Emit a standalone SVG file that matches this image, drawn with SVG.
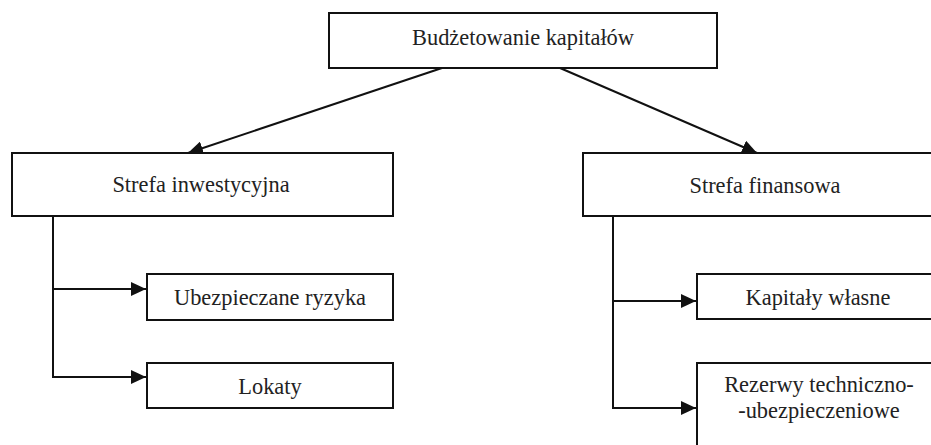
<svg xmlns="http://www.w3.org/2000/svg" width="931" height="445" viewBox="0 0 931 445">
<style>
.box{fill:#fff;stroke:#111;stroke-width:2}
.lbl{font-family:"Liberation Serif","Times New Roman",serif;font-size:22.4px;fill:#222;text-anchor:middle}
.con{fill:none;stroke:#111;stroke-width:2}
</style>
<defs>
<marker id="ah" markerUnits="userSpaceOnUse" markerWidth="16" markerHeight="14" refX="15" refY="7" orient="auto">
<path d="M0,0 L15,7 L0,14 z" fill="#111"/>
</marker>
</defs>
<rect width="931" height="445" fill="#fff"/>
<g id="connectors">
<line class="con" x1="442" y1="68" x2="188" y2="153" marker-end="url(#ah)"/>
<line class="con" x1="560" y1="68" x2="757" y2="153" marker-end="url(#ah)"/>
<polyline class="con" points="53,217 53,377 146,377" marker-end="url(#ah)"/>
<line class="con" x1="53" y1="289" x2="146" y2="289" marker-end="url(#ah)"/>
<polyline class="con" points="613,217 613,408 696,408" marker-end="url(#ah)"/>
<line class="con" x1="613" y1="301" x2="696" y2="301" marker-end="url(#ah)"/>
</g>
<g id="budzetowanie">
<rect class="box" x="329" y="13" width="388" height="55"/>
<text class="lbl" x="523" y="45">Budżetowanie kapitałów</text>
</g>
<g id="strefa-inwestycyjna">
<rect class="box" x="12" y="153" width="381" height="63"/>
<text class="lbl" x="201" y="192">Strefa inwestycyjna</text>
</g>
<g id="strefa-finansowa">
<rect class="box" x="583" y="153" width="360" height="63"/>
<text class="lbl" x="765" y="193">Strefa finansowa</text>
</g>
<g id="ubezpieczane-ryzyka">
<rect class="box" x="147" y="274" width="246" height="46"/>
<text class="lbl" x="270" y="305">Ubezpieczane ryzyka</text>
</g>
<g id="lokaty">
<rect class="box" x="147" y="363" width="246" height="45"/>
<text class="lbl" x="270" y="394">Lokaty</text>
</g>
<g id="kapitaly-wlasne">
<rect class="box" x="697" y="274" width="245" height="45"/>
<text class="lbl" x="818" y="305">Kapitały własne</text>
</g>
<g id="rezerwy">
<rect class="box" x="697" y="363" width="245" height="95"/>
<text class="lbl" x="819" y="392">Rezerwy techniczno-</text>
<text class="lbl" x="819" y="418">-ubezpieczeniowe</text>
</g>
</svg>
